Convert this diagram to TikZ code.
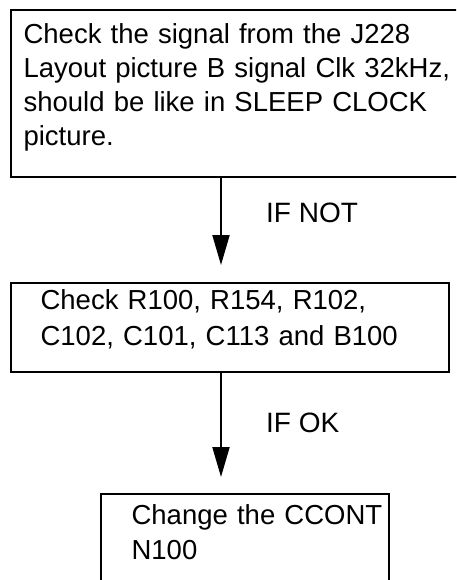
\documentclass[tikz,border=0pt]{standalone}
\usepackage{fontspec}
\setmainfont{Liberation Sans}
\usetikzlibrary{arrows.meta}
\begin{document}
\begin{tikzpicture}[x=1pt, y=1pt,
  stepbox/.style={draw=black, line width=2.2pt, fill=white, anchor=north west, align=left, inner ysep=0pt},
  flow/.style={draw=black, line width=2pt, -{Triangle[length=30pt, width=17pt]}},
  cond/.style={anchor=base west, inner sep=0pt, font=\fontsize{28}{34}\selectfont}]
\useasboundingbox (0,0) rectangle (456,-580);
\clip (0,0) rectangle (456,-580);
\draw (10,-9) node[stepbox, inner xsep=12.5pt, text width=436pt, text height=33pt, text depth=133.5pt, font=\fontsize{27.5}{34}\selectfont](sig){Check the signal from the J228\\Layout picture B signal Clk 32kHz,\\should be like in SLEEP CLOCK\\picture.}
(10,-282) node[stepbox, inner xsep=29.5pt, text width=379pt, text height=26pt, text depth=63pt, font=\fontsize{27.5}{36}\selectfont](parts){Check R100, R154, R102,\\C102, C101, C113 and B100}
(100,-493) node[stepbox, inner xsep=30.5pt, text width=227pt, text height=30pt, text depth=77pt, font=\fontsize{27.5}{35}\selectfont](ccont){Change~the~CCONT\\N100};
\coordinate (tipa) at (221,-265);
\coordinate (tipb) at (221,-477);
\draw [flow] (sig.south -| tipa)--(tipa);
\draw [flow] (parts.south -| tipb)--(tipb);
\draw (266,-222) node[cond](ifnot){IF NOT}
(266,-432) node[cond](ifok){IF OK};
\end{tikzpicture}
\end{document}
